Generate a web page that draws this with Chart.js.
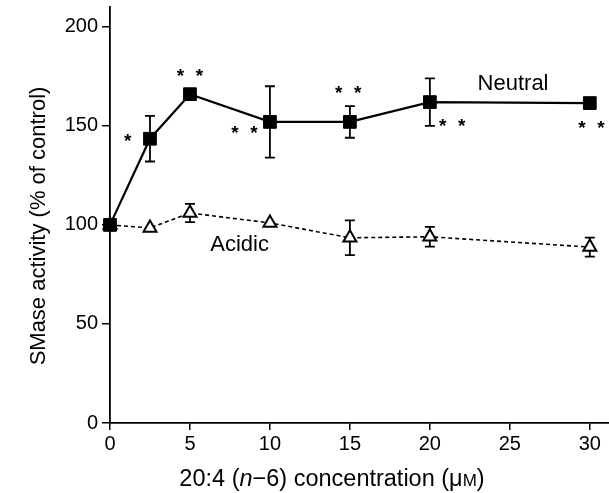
<!DOCTYPE html>
<html lang="en">
<head>
    <meta charset="UTF-8">
    <title>SMase activity</title>
    <script src="https://cdn.jsdelivr.net/npm/chart.js"></script>
    <style>
        html, body { margin: 0; padding: 0; background: #fff; overflow: hidden; }
        #wrap { width: 609px; height: 493px; position: relative; }
        canvas { display: block; }
    </style>
</head>
<body>
    <div id="wrap"><canvas id="smaseChart"></canvas></div>

    <script>
        // Data
        const concentrations = [0, 2.5, 5, 10, 15, 20, 30];
        const neutralValues = [100, 143.5, 166, 152, 152, 162, 161.5];
        const neutralErrors = [0, 11.5, 0, 18, 8, 12, 0];
        const acidicValues = [100, 98.5, 106, 101, 93.5, 94, 88.8];
        const acidicErrors = [0, 0, 4.6, 0, 8.8, 5, 4.8];

        // significance marks and curve labels, in data units
        const starMarks = [
            { x: 1.1, y: 144, n: 1 },
            { x: 5.0, y: 177, n: 2 },
            { x: 8.4, y: 148, n: 2 },
            { x: 14.9, y: 168, n: 2 },
            { x: 21.4, y: 151.5, n: 2 },
            { x: 30.1, y: 150.5, n: 2 },
        ];
        const curveLabels = [
            { text: "Neutral", x: 25.2, y: 171 },
            { text: "Acidic", x: 8.1, y: 90 },
        ];

        const FONT = "'Liberation Sans', Arial, Helvetica, sans-serif";

        const toPoints = (ys) => concentrations.map((x, i) => ({ x: x, y: ys[i] }));

        // error bars, drawn under the markers
        const errorBars = {
            id: "errorBars",
            beforeDatasetsDraw(chart) {
                const ctx = chart.ctx;
                const xs = chart.scales.x, ys = chart.scales.y;
                const sets = [[neutralValues, neutralErrors], [acidicValues, acidicErrors]];
                ctx.save();
                ctx.strokeStyle = "#000";
                ctx.lineWidth = 1.8;
                sets.forEach(([vals, errs]) => {
                    vals.forEach((v, i) => {
                        if (!errs[i]) return;
                        const px = xs.getPixelForValue(concentrations[i]);
                        const top = ys.getPixelForValue(v + errs[i]);
                        const bot = ys.getPixelForValue(v - errs[i]);
                        ctx.beginPath();
                        ctx.moveTo(px, top); ctx.lineTo(px, bot);
                        ctx.moveTo(px - 5, top); ctx.lineTo(px + 5, top);
                        ctx.moveTo(px - 5, bot); ctx.lineTo(px + 5, bot);
                        ctx.stroke();
                    });
                });
                ctx.restore();
            }
        };

        // stars, curve labels and axis titles
        const annotations = {
            id: "annotations",
            afterDraw(chart) {
                const ctx = chart.ctx;
                const xs = chart.scales.x, ys = chart.scales.y;
                ctx.save();
                ctx.fillStyle = "#000";

                ctx.font = "bold 19px " + FONT;
                ctx.textAlign = "center";
                ctx.textBaseline = "middle";
                starMarks.forEach(s => {
                    const px = xs.getPixelForValue(s.x);
                    const py = ys.getPixelForValue(s.y) + 4;
                    if (s.n === 1) {
                        ctx.fillText("*", px, py);
                    } else {
                        ctx.fillText("*", px - 9.5, py);
                        ctx.fillText("*", px + 9.5, py);
                    }
                });

                ctx.font = "22px " + FONT;
                curveLabels.forEach(l => {
                    ctx.fillText(l.text, xs.getPixelForValue(l.x), ys.getPixelForValue(l.y));
                });

                // y title
                ctx.save();
                ctx.translate(39, 226);
                ctx.rotate(-Math.PI / 2);
                ctx.font = "22px " + FONT;
                ctx.fillText("SMase activity (% of control)", 0, 0);
                ctx.restore();

                // x title with italic n and small-cap M
                const parts = [
                    { t: "20:4 (", f: "23.5px " + FONT },
                    { t: "n", f: "italic 23.5px " + FONT },
                    { t: "\u22126) concentration (\u03bc", f: "23.5px " + FONT },
                    { t: "M", f: "17px " + FONT },
                    { t: ")", f: "23.5px " + FONT },
                ];
                let total = 0;
                parts.forEach(p => { ctx.font = p.f; p.w = ctx.measureText(p.t).width; total += p.w; });
                let cx = 332 - total / 2;
                ctx.textAlign = "left";
                ctx.textBaseline = "alphabetic";
                parts.forEach(p => { ctx.font = p.f; ctx.fillText(p.t, cx, 486); cx += p.w; });

                ctx.restore();
            }
        };

        const ctx = document.getElementById("smaseChart").getContext("2d");
        new Chart(ctx, {
            type: "line",
            data: {
                datasets: [
                    {
                        label: "Neutral",
                        data: toPoints(neutralValues),
                        borderColor: "#000",
                        borderWidth: 2.2,
                        pointStyle: "rect",
                        pointRadius: 9,
                        pointBackgroundColor: "#000",
                        pointBorderColor: "#000",
                        pointBorderWidth: 1,
                        tension: 0,
                        clip: false,
                    },
                    {
                        label: "Acidic",
                        data: toPoints(acidicValues),
                        borderColor: "#000",
                        borderWidth: 1.6,
                        borderDash: [4, 3],
                        pointStyle: "triangle",
                        pointRadius: 7.5,
                        pointBackgroundColor: "#fff",
                        pointBorderColor: "#000",
                        pointBorderWidth: 2,
                        tension: 0,
                        clip: false,
                    },
                ],
            },
            options: {
                responsive: true,
                maintainAspectRatio: false,
                animation: false,
                layout: { autoPadding: false, padding: { top: 7, right: 0, left: 0, bottom: 0 } },
                plugins: {
                    legend: { display: false },
                    tooltip: { enabled: false },
                },
                scales: {
                    x: {
                        type: "linear",
                        min: 0,
                        max: 31.2,
                        afterFit: (s) => { s.height = 70; },
                        ticks: {
                            stepSize: 5,
                            includeBounds: false,
                            color: "#000",
                            padding: 2,
                            font: { family: FONT, size: 20 },
                        },
                        grid: { display: true, drawOnChartArea: false, drawTicks: true, tickLength: 7, color: "#000", lineWidth: 1.5 },
                        border: { display: true, color: "#000", width: 1.8 },
                    },
                    y: {
                        min: 0,
                        max: 210,
                        afterFit: (s) => { s.width = 110; s.paddingTop = 0; s.paddingBottom = 0; },
                        ticks: {
                            stepSize: 50,
                            includeBounds: false,
                            color: "#000",
                            padding: 4,
                            font: { family: FONT, size: 20 },
                        },
                        grid: { display: true, drawOnChartArea: false, drawTicks: true, tickLength: 8, color: "#000", lineWidth: 1.5 },
                        border: { display: true, color: "#000", width: 1.8 },
                    },
                },
            },
            plugins: [errorBars, annotations],
        });
    </script>
</body>
</html>
